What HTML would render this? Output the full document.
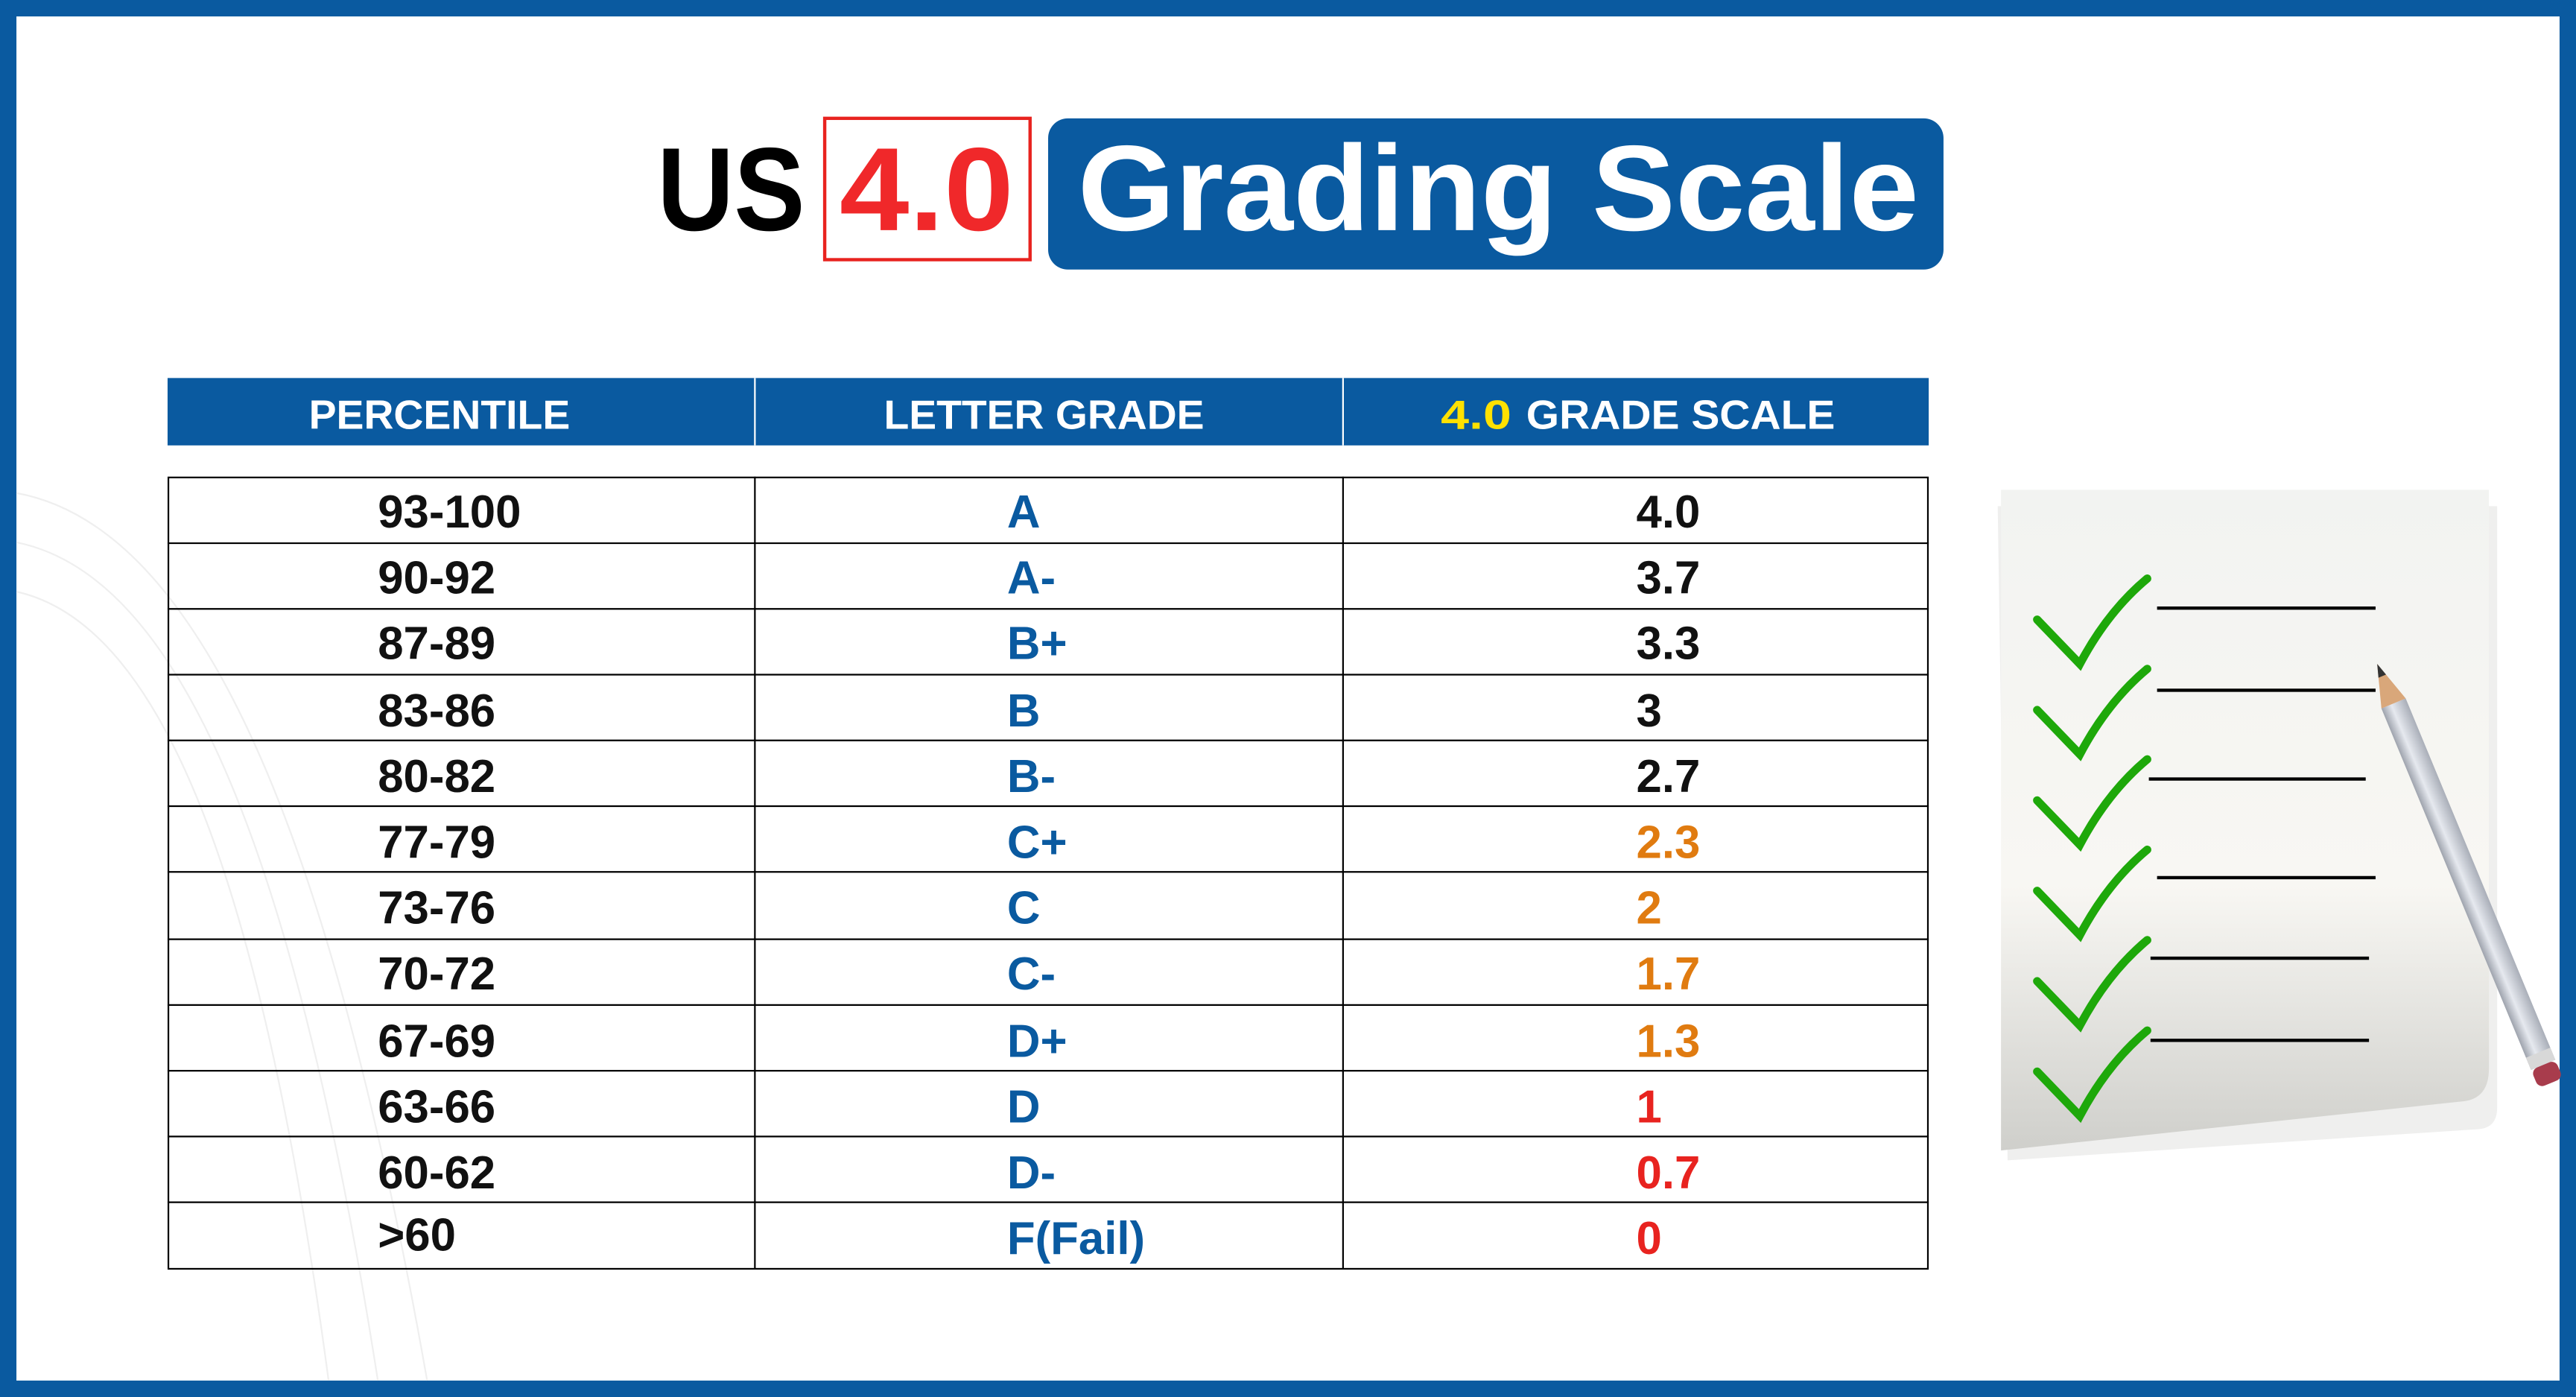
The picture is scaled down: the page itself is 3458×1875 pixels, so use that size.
<!DOCTYPE html>
<html><head><meta charset="utf-8"><style>
html,body{margin:0;padding:0;background:#fff;}
svg{display:block;}
text{font-family:"Liberation Sans",sans-serif;font-weight:bold;}
</style></head><body>
<svg width="3458" height="1875" viewBox="0 0 1568 850" preserveAspectRatio="none" xmlns="http://www.w3.org/2000/svg">
<defs>
<linearGradient id="pg" x1="0" y1="0" x2="0" y2="1"><stop offset="0" stop-color="#f2f3f1"/><stop offset="0.6" stop-color="#f8f7f3"/><stop offset="1" stop-color="#cfcfcb"/></linearGradient>
<linearGradient id="pc" x1="0" y1="0" x2="1" y2="0"><stop offset="0" stop-color="#9ea3ad"/><stop offset="0.4" stop-color="#e6e9ef"/><stop offset="1" stop-color="#a9aeb8"/></linearGradient>
</defs>
<rect x="0" y="0" width="1568" height="850" fill="#0a5aa0"/>
<rect x="10" y="10" width="1548" height="830" fill="#fff"/>
<g fill="none" stroke="#efefef" stroke-width="1">
<path d="M10 300 C120 320 200 500 260 840"/><path d="M10 330 C110 350 180 520 230 840"/><path d="M10 360 C100 380 160 540 200 840"/>
</g>
<!-- Title -->
<text x="400" y="140" font-size="72" fill="#000" textLength="90" lengthAdjust="spacingAndGlyphs">US</text>
<rect x="502" y="72" width="125" height="86" fill="none" stroke="#e8231f" stroke-width="2"/>
<text x="511" y="140" font-size="72" fill="#f0282a" textLength="106" lengthAdjust="spacingAndGlyphs">4.0</text>
<rect x="638" y="72" width="545" height="92" rx="12" fill="#0a5aa0"/>
<text x="656" y="140" font-size="74" fill="#fff" textLength="512" lengthAdjust="spacingAndGlyphs">Grading Scale</text>
<!-- Header -->
<rect x="102" y="230" width="1072" height="41" fill="#0a5aa0"/>
<line x1="459.5" y1="230" x2="459.5" y2="271" stroke="#fff" stroke-width="1"/>
<line x1="817.5" y1="230" x2="817.5" y2="271" stroke="#fff" stroke-width="1"/>
<text x="188" y="261" font-size="25" fill="#fff" textLength="159" lengthAdjust="spacingAndGlyphs">PERCENTILE</text>
<text x="538" y="261" font-size="25" fill="#fff" textLength="195" lengthAdjust="spacingAndGlyphs">LETTER GRADE</text>
<text x="877" y="261" font-size="25" fill="#ffe100" textLength="43" lengthAdjust="spacingAndGlyphs">4.0</text>
<text x="929" y="261" font-size="25" fill="#fff" textLength="188" lengthAdjust="spacingAndGlyphs">GRADE SCALE</text>
<!-- Table -->
<g stroke="#000" stroke-width="1" fill="none">
<rect x="102.5" y="290.5" width="1071" height="481.5"/>
<line x1="459.5" y1="290" x2="459.5" y2="772"/><line x1="817.5" y1="290" x2="817.5" y2="772"/>
<line x1="102" y1="330.5" x2="1174" y2="330.5"/><line x1="102" y1="370.5" x2="1174" y2="370.5"/>
<line x1="102" y1="410.5" x2="1174" y2="410.5"/><line x1="102" y1="450.5" x2="1174" y2="450.5"/>
<line x1="102" y1="490.5" x2="1174" y2="490.5"/><line x1="102" y1="530.5" x2="1174" y2="530.5"/>
<line x1="102" y1="571.5" x2="1174" y2="571.5"/><line x1="102" y1="611.5" x2="1174" y2="611.5"/>
<line x1="102" y1="651.5" x2="1174" y2="651.5"/><line x1="102" y1="691.5" x2="1174" y2="691.5"/>
<line x1="102" y1="731.5" x2="1174" y2="731.5"/>
</g>
<g font-size="28">
<text x="230" y="321" fill="#111">93-100</text><text x="613" y="321" fill="#0a5aa0">A</text><text x="996" y="321" fill="#111">4.0</text>
<text x="230" y="361" fill="#111">90-92</text><text x="613" y="361" fill="#0a5aa0">A-</text><text x="996" y="361" fill="#111">3.7</text>
<text x="230" y="401" fill="#111">87-89</text><text x="613" y="401" fill="#0a5aa0">B+</text><text x="996" y="401" fill="#111">3.3</text>
<text x="230" y="442" fill="#111">83-86</text><text x="613" y="442" fill="#0a5aa0">B</text><text x="996" y="442" fill="#111">3</text>
<text x="230" y="482" fill="#111">80-82</text><text x="613" y="482" fill="#0a5aa0">B-</text><text x="996" y="482" fill="#111">2.7</text>
<text x="230" y="522" fill="#111">77-79</text><text x="613" y="522" fill="#0a5aa0">C+</text><text x="996" y="522" fill="#e07b10">2.3</text>
<text x="230" y="562" fill="#111">73-76</text><text x="613" y="562" fill="#0a5aa0">C</text><text x="996" y="562" fill="#e07b10">2</text>
<text x="230" y="602" fill="#111">70-72</text><text x="613" y="602" fill="#0a5aa0">C-</text><text x="996" y="602" fill="#e07b10">1.7</text>
<text x="230" y="643" fill="#111">67-69</text><text x="613" y="643" fill="#0a5aa0">D+</text><text x="996" y="643" fill="#e07b10">1.3</text>
<text x="230" y="683" fill="#111">63-66</text><text x="613" y="683" fill="#0a5aa0">D</text><text x="996" y="683" fill="#e8231f">1</text>
<text x="230" y="723" fill="#111">60-62</text><text x="613" y="723" fill="#0a5aa0">D-</text><text x="996" y="723" fill="#e8231f">0.7</text>
<text x="230" y="761" fill="#111">&gt;60</text><text x="613" y="763" fill="#0a5aa0">F(Fail)</text><text x="996" y="763" fill="#e8231f">0</text>
</g>
<!-- Checklist paper -->
<path d="M1212 302 L1516 302 L1516 668 Q1516 680 1505 681 L1218 700 Z" fill="#e4e4e2" opacity="0.6" transform="translate(4,6)"/>
<path d="M1218 298 L1515 298 L1515 650 Q1515 668 1500 670 L1218 700 Z" fill="url(#pg)"/>
<g fill="none" stroke="#1ea80a" stroke-width="5" stroke-linecap="round">
<path d="M1240 377 L1266 404 Q1283 372 1307 352"/>
<path d="M1240 432 L1266 459 Q1283 427 1307 407"/>
<path d="M1240 487 L1266 514 Q1283 482 1307 462"/>
<path d="M1240 542 L1266 569 Q1283 537 1307 517"/>
<path d="M1240 597 L1266 624 Q1283 592 1307 572"/>
<path d="M1240 652 L1266 679 Q1283 647 1307 627"/>
</g>
<g stroke="#000" stroke-width="2">
<line x1="1313" y1="370" x2="1446" y2="370"/><line x1="1313" y1="420" x2="1446" y2="420"/>
<line x1="1308" y1="474" x2="1440" y2="474"/><line x1="1313" y1="534" x2="1446" y2="534"/>
<line x1="1309" y1="583" x2="1442" y2="583"/><line x1="1309" y1="633" x2="1442" y2="633"/>
</g>
<!-- Pencil -->
<g transform="translate(1447,404) rotate(-22.5)">
<rect x="-8" y="26" width="16" height="238" fill="url(#pc)"/>
<polygon points="0,0 -8,26 8,26" fill="#d9a77a"/>
<polygon points="0,0 -2.5,8 2.5,8" fill="#333"/>
<rect x="-8" y="256" width="16" height="8" fill="#d8d8d8"/>
<rect x="-8" y="264" width="16" height="12" rx="4" fill="#a83c4c"/>
</g>
</svg>
</body></html>
